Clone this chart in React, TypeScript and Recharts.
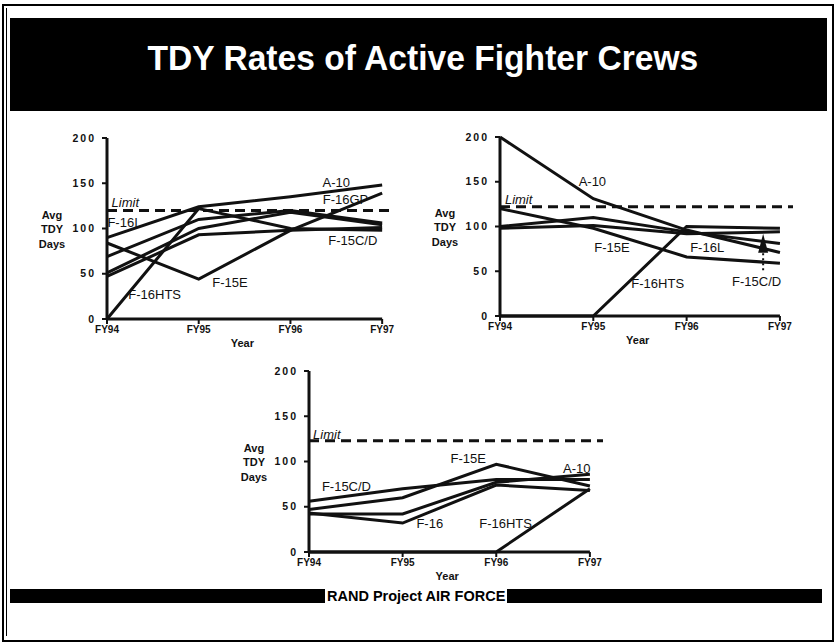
import React from "react";
import { LineChart, Line, XAxis, YAxis, ReferenceLine, ReferenceDot, Label } from "recharts";

const CATEGORIES = ["FY94", "FY95", "FY96", "FY97"];
const Y_TICKS = [0, 50, 100, 150, 200];
const X_TICKS = [0, 1, 2, 3];

// top-left panel
const c1A10 = [90, 124, 135, 148];
const c1F15E = [84, 44, 98, 139];
const c1F16HTS = [0, 122, 100, 98];
const c1F16I = [69, 110, 120, 106];
const c1F16GP = [51, 100, 118, 104];
const c1F15CD = [47, 93, 98, 101];
const c1Limit = 120;

// top-right panel
const c2A10 = [200, 131, 96, 71];
const c2F15E = [120, 98, 66, 59];
const c2F15CD = [100, 110, 94, 81];
const c2F16L = [98, 101, 92, 94];
const c2F16HTS = [0, 0, 100, 98];
const c2Limit = 122;

// bottom panel
const c3F15CD = [56, 70, 80, 80];
const c3F15E = [47, 60, 97, 73];
const c3F16 = [43, 32, 74, 68];
const c3A10 = [42, 42, 77, 86];
const c3F16HTS = [0, 0, 0, 70];
const c3Limit = 123;

// where the series names sit, in data units
const c1Notes = [
  { text: "Limit", x: 0.2, y: 129, italic: true },
  { text: "A-10", x: 2.5, y: 151 },
  { text: "F-16GP", x: 2.6, y: 132 },
  { text: "F-16I", x: 0.17, y: 107 },
  { text: "F-15C/D", x: 2.68, y: 87 },
  { text: "F-15E", x: 1.34, y: 40 },
  { text: "F-16HTS", x: 0.52, y: 27 },
];
const c2Notes = [
  { text: "A-10", x: 0.99, y: 150 },
  { text: "Limit", x: 0.2, y: 130, italic: true },
  { text: "F-15E", x: 1.2, y: 76 },
  { text: "F-16L", x: 2.22, y: 76 },
  { text: "F-16HTS", x: 1.69, y: 36 },
  { text: "F-15C/D", x: 2.75, y: 38 },
];
const c3Notes = [
  { text: "Limit", x: 0.19, y: 130, italic: true },
  { text: "F-15E", x: 1.7, y: 103 },
  { text: "A-10", x: 2.86, y: 92 },
  { text: "F-15C/D", x: 0.4, y: 72 },
  { text: "F-16", x: 1.29, y: 31 },
  { text: "F-16HTS", x: 2.1, y: 31 },
];

const INK = "#111";
const FONT = "'Liberation Sans', Arial, Helvetica, sans-serif";
const X_MAX = 3.14;
const Y_TICK = { fill: INK, fontSize: 10.5, fontWeight: 700, fontFamily: FONT, letterSpacing: 2 };
const X_TICK = { fill: INK, fontSize: 10, fontWeight: 700, fontFamily: FONT };

type Series = { key: string; values: number[] };
type Note = { text: string; x: number; y: number; italic?: boolean };

const YearLabel = (props: any) => {
  const vb = props.viewBox || {};
  return (
    <text x={vb.x + vb.width * 0.47} y={vb.y + 28} textAnchor="middle" fill={INK}
      fontSize={11} fontWeight={700} fontFamily={FONT}>
      Year
    </text>
  );
};

const AvgLabel = (props: any) => {
  const vb = props.viewBox || {};
  const cx = vb.x + vb.width - 55;
  const mid = vb.y + vb.height / 2;
  return (
    <text textAnchor="middle" fill={INK} fontSize={11} fontWeight={700} fontFamily={FONT}>
      <tspan x={cx} y={mid - 10}>Avg</tspan>
      <tspan x={cx} y={mid + 4}>TDY</tspan>
      <tspan x={cx} y={mid + 19}>Days</tspan>
    </text>
  );
};

function Panel({
  lines,
  limit,
  notes,
  left,
  top,
  width,
  height,
  margin,
  children,
}: {
  lines: Series[];
  limit: number;
  notes: Note[];
  left: number;
  top: number;
  width: number;
  height: number;
  margin: { top: number; right: number; bottom: number; left: number };
  children?: React.ReactNode;
}) {
  const rows = CATEGORIES.map((c, i) => {
    const r: Record<string, number | string> = { x: i, label: c };
    lines.forEach((l) => (r[l.key] = l.values[i]));
    return r;
  });
  return (
    <div style={{ position: "absolute", left, top }}>
      <LineChart width={width} height={height} data={rows} margin={margin}>
        <XAxis
          type="number"
          dataKey="x"
          domain={[0, X_MAX]}
          ticks={X_TICKS}
          tickFormatter={(v) => CATEGORIES[v] ?? ""}
          axisLine={false}
          tickLine={{ stroke: INK, strokeWidth: 2 }}
          tickSize={5}
          tickMargin={2}
          tick={X_TICK}
          height={30}
          label={<Label content={YearLabel} />}
        />
        <YAxis
          domain={[0, 200]}
          ticks={Y_TICKS}
          width={40}
          axisLine={{ stroke: INK, strokeWidth: 3 }}
          tickLine={{ stroke: INK, strokeWidth: 2 }}
          tickSize={5}
          tickMargin={6}
          tick={Y_TICK}
          label={<Label content={AvgLabel} />}
        />
        <ReferenceLine segment={[{ x: 0, y: 0 }, { x: 3, y: 0 }]} stroke={INK} strokeWidth={3} />
        <ReferenceLine y={limit} stroke={INK} strokeWidth={3} strokeDasharray="10 6" />
        {lines.map((l) => (
          <Line
            key={l.key}
            dataKey={l.key}
            type="linear"
            stroke={INK}
            strokeWidth={3}
            dot={false}
            isAnimationActive={false}
          />
        ))}
        {notes.map((n) => (
          <ReferenceDot
            key={n.text}
            x={n.x}
            y={n.y}
            r={0}
            shape={(p: any) => (
              <text x={p.cx} y={p.cy} textAnchor="middle" dominantBaseline="central" fill={INK}
                fontSize={13} fontStyle={n.italic ? "italic" : "normal"} fontFamily={FONT}>
                {n.text}
              </text>
            )}
          />
        ))}
        {children}
      </LineChart>
    </div>
  );
}

export default function App() {
  return (
    <div style={{ position: "absolute", left: 0, top: 0, width: 838, height: 644, background: "#fff", overflow: "hidden" }}>
      <div style={{ position: "absolute", left: 2, top: 4, width: 828, height: 634, border: "2px solid #000" }} />
      <div style={{ position: "absolute", left: 6, top: 8, width: 1, height: 628, background: "#000" }} />
      <div
        style={{
          position: "absolute", left: 10, top: 18, width: 817, height: 93, background: "#000",
          display: "flex", alignItems: "center", justifyContent: "center",
        }}
      >
        <span
          style={{
            color: "#fff", fontFamily: FONT, fontWeight: 700, fontSize: 35, whiteSpace: "nowrap",
            display: "inline-block", transform: "scaleX(0.96)", marginTop: -14, marginLeft: 8,
          }}
        >
          TDY Rates of Active Fighter Crews
        </span>
      </div>

      <Panel
        lines={[
          { key: "A-10", values: c1A10 },
          { key: "F-15E", values: c1F15E },
          { key: "F-16HTS", values: c1F16HTS },
          { key: "F-16I", values: c1F16I },
          { key: "F-16GP", values: c1F16GP },
          { key: "F-15C/D", values: c1F15CD },
        ]}
        limit={c1Limit}
        notes={c1Notes}
        left={20}
        top={125}
        width={390}
        height={230}
        margin={{ top: 13, right: 15, bottom: 6, left: 47 }}
      />

      <Panel
        lines={[
          { key: "A-10", values: c2A10 },
          { key: "F-15E", values: c2F15E },
          { key: "F-15C/D", values: c2F15CD },
          { key: "F-16L", values: c2F16L },
          { key: "F-16HTS", values: c2F16HTS },
        ]}
        limit={c2Limit}
        notes={c2Notes}
        left={420}
        top={125}
        width={400}
        height={230}
        margin={{ top: 12, right: 27, bottom: 9, left: 40 }}
      >
        <ReferenceLine segment={[{ x: 2.82, y: 70 }, { x: 2.82, y: 50 }]} stroke={INK} strokeWidth={2} strokeDasharray="2 3" />
        <ReferenceDot
          x={2.82}
          y={92}
          r={0}
          shape={(p: any) => (
            <polygon points={`${p.cx},${p.cy} ${p.cx - 5},${p.cy + 19} ${p.cx + 5},${p.cy + 19}`} fill={INK} />
          )}
        />
      </Panel>

      <Panel
        lines={[
          { key: "F-15C/D", values: c3F15CD },
          { key: "F-15E", values: c3F15E },
          { key: "F-16", values: c3F16 },
          { key: "A-10", values: c3A10 },
          { key: "F-16HTS", values: c3F16HTS },
        ]}
        limit={c3Limit}
        notes={c3Notes}
        left={220}
        top={355}
        width={400}
        height={230}
        margin={{ top: 16, right: 17, bottom: 3, left: 49 }}
      />

      <div style={{ position: "absolute", left: 10, top: 589, width: 315, height: 14, background: "#000" }} />
      <div
        style={{
          position: "absolute", left: 327, top: 586, height: 20, lineHeight: "20px",
          fontFamily: FONT, fontWeight: 700, fontSize: 14.5, color: "#000", whiteSpace: "nowrap",
        }}
      >
        RAND Project AIR FORCE
      </div>
      <div style={{ position: "absolute", left: 507, top: 589, width: 315, height: 14, background: "#000" }} />
    </div>
  );
}
